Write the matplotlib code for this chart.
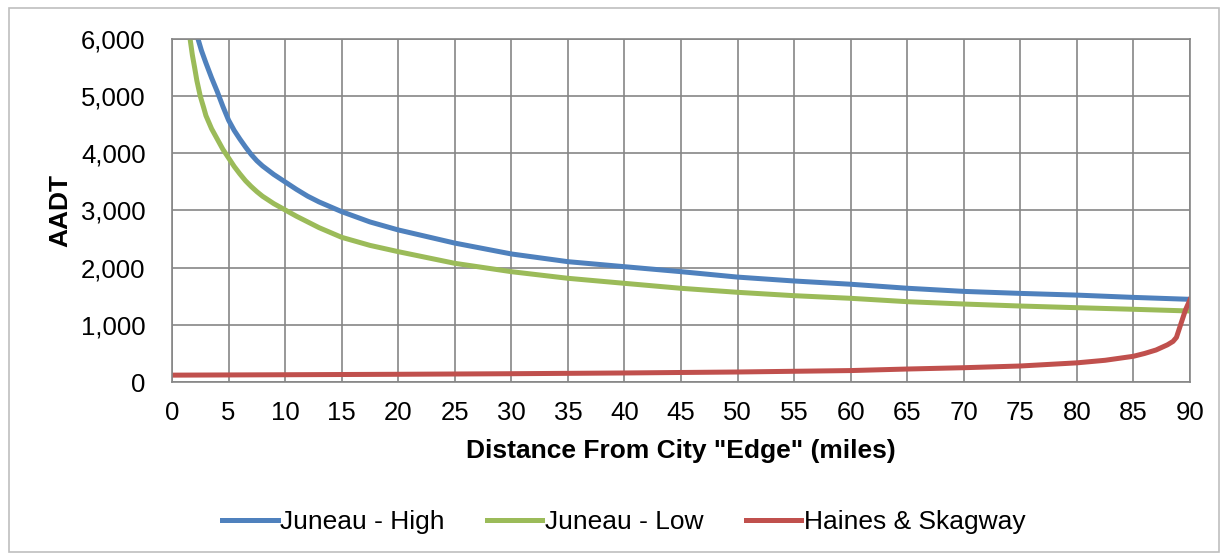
import matplotlib.pyplot as plt
from matplotlib.patches import Rectangle
from matplotlib.ticker import FuncFormatter

plt.rcParams['font.family'] = ['Liberation Sans', 'DejaVu Sans']

# values
high_x = [2.3, 2.6, 3, 3.5, 4, 4.5, 5, 5.5, 6, 6.5, 7, 7.5, 8, 9, 10, 11,
          12, 13, 15, 17.5, 20, 25, 30, 35, 40, 45, 50, 55, 60, 65, 70, 75,
          80, 85, 90]
high_y = [6000, 5800, 5580, 5320, 5080, 4820, 4580, 4400, 4250, 4110, 3980,
          3870, 3780, 3630, 3500, 3370, 3250, 3150, 2980, 2800, 2660, 2430,
          2240, 2105, 2017, 1930, 1835, 1767, 1710, 1640, 1585, 1550, 1520,
          1480, 1446]

low_x = [1.6, 1.8, 2, 2.2, 2.5, 2.8, 3, 3.5, 4, 4.5, 5, 5.5, 6, 6.5, 7,
         7.5, 8, 9, 10, 11, 12, 13, 15, 17.5, 20, 25, 30, 35, 40, 45, 50,
         55, 60, 65, 70, 75, 80, 85, 90]
low_y = [6000, 5720, 5500, 5270, 5000, 4800, 4660, 4430, 4250, 4070, 3920,
         3770, 3640, 3520, 3420, 3330, 3250, 3120, 3010, 2900, 2800, 2700,
         2531, 2390, 2280, 2076, 1930, 1814, 1726, 1639, 1569, 1510, 1464,
         1405, 1364, 1329, 1300, 1272, 1242]

hs_x = [0, 10, 20, 30, 40, 50, 60, 65, 70, 75, 80, 82.5, 85, 86, 87, 88,
        88.5, 88.8, 89, 89.3, 89.6, 90]
hs_y = [120, 127, 135, 145, 158, 175, 200, 227, 250, 280, 335, 380, 450,
        500, 560, 650, 710, 780, 900, 1080, 1260, 1440]

FS = 18.5
GRID = '#868686'

fig = plt.figure(figsize=(12.28, 5.56), dpi=100)
ax = fig.add_axes([172/1228, 1-382/556, (1190-172)/1228, (382-39)/556])

ax.plot(high_x, high_y, color='#4F81BD', lw=3.6, label='Juneau - High')
ax.plot(low_x, low_y, color='#9BBB59', lw=3.6, label='Juneau - Low')
ax.plot(hs_x, hs_y, color='#C0504D', lw=3.6, label='Haines & Skagway')

ax.set_xlim(0, 90)
ax.set_ylim(0, 6000)
ax.set_xticks(range(0, 91, 5))
ax.set_yticks(range(0, 6001, 1000))
ax.yaxis.set_major_formatter(FuncFormatter(lambda v, p: f'{int(v):,}'))
ax.tick_params(length=0, labelsize=FS)
ax.tick_params(axis='y', pad=19)
ax.tick_params(axis='x', pad=14)
ax.grid(True, color=GRID, lw=1.2)
ax.set_axisbelow(True)
for s in ax.spines.values():
    s.set_color(GRID)
    s.set_linewidth(1.2)

ax.set_xlabel('Distance From City "Edge" (miles)', fontsize=19, fontweight='bold', labelpad=10)
ax.set_ylabel('AADT', fontsize=19, fontweight='bold', labelpad=6)

fig.legend(loc='center', bbox_to_anchor=(0.508, 1-522/556), ncol=3, frameon=False,
           fontsize=19, handlelength=2.1, handletextpad=0.1, columnspacing=1.6)

fig.patches.append(Rectangle((9/1228, 4/556), 1210/1228, 544/556, transform=fig.transFigure,
                             fill=False, edgecolor='#BFBFBF', lw=1.2))

fig.savefig('out.png', dpi=100)
